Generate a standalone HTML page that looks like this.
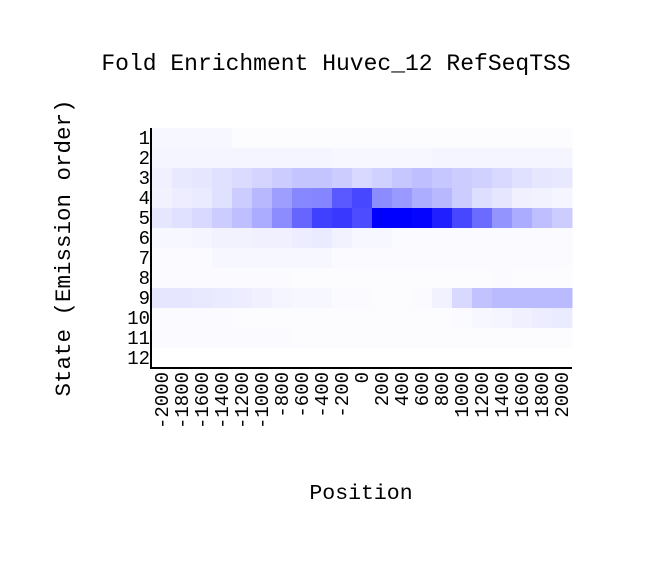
<!DOCTYPE html>
<html><head><meta charset="utf-8"><style>body{margin:0;background:#fff}svg text{font-family:"Liberation Mono",monospace;fill:#000}</style></head>
<body>
<svg id="c" width="672" height="556">
<text x="336" y="70" font-size="23" text-anchor="middle">Fold Enrichment Huvec_12 RefSeqTSS</text>
<text x="361" y="499" font-size="21.5" text-anchor="middle">Position</text>
<text transform="translate(70,248) rotate(-90)" font-size="22.5" text-anchor="middle">State (Emission order)</text>
<g id="cells"></g><g id="lbl"></g>
<line x1="151" y1="128" x2="151" y2="369" stroke="#000" stroke-width="2"/>
<line x1="150" y1="368" x2="572" y2="368" stroke="#000" stroke-width="2"/>
</svg>
<script>
const positions=[-2000,-1800,-1600,-1400,-1200,-1000,-800,-600,-400,-200,0,200,400,600,800,1000,1200,1400,1600,1800,2000];
const states=["1","2","3","4","5","6","7","8","9","10","11","12"];
const values=[
[0.03,0.03,0.03,0.03,0.01,0.01,0.01,0.01,0.01,0.01,0.01,0.01,0.01,0.01,0.01,0.01,0.01,0.01,0.01,0.01,0.01],
[0.04,0.04,0.04,0.04,0.04,0.04,0.04,0.04,0.04,0.03,0.03,0.03,0.03,0.03,0.04,0.04,0.04,0.04,0.04,0.04,0.04],
[0.06,0.09,0.1,0.12,0.14,0.17,0.2,0.23,0.23,0.2,0.15,0.18,0.22,0.25,0.22,0.2,0.18,0.15,0.12,0.1,0.09],
[0.05,0.07,0.08,0.12,0.2,0.28,0.38,0.47,0.48,0.65,0.72,0.45,0.4,0.32,0.28,0.2,0.13,0.1,0.06,0.05,0.04],
[0.1,0.12,0.15,0.2,0.25,0.33,0.45,0.6,0.75,0.78,0.7,1,1,0.98,0.88,0.72,0.58,0.42,0.33,0.25,0.2],
[0.03,0.03,0.04,0.05,0.05,0.06,0.06,0.07,0.08,0.05,0.03,0.03,0.02,0.02,0.02,0.02,0.02,0.02,0.02,0.02,0.02],
[0.02,0.02,0.02,0.03,0.03,0.03,0.03,0.03,0.03,0.02,0.02,0.02,0.02,0.02,0.02,0.02,0.02,0.02,0.02,0.02,0.02],
[0.02,0.02,0.02,0.02,0.02,0.02,0.02,0.01,0.01,0.01,0.01,0.01,0.01,0.01,0.01,0.01,0.01,0.02,0.01,0.01,0.01],
[0.1,0.1,0.09,0.08,0.07,0.06,0.04,0.03,0.03,0.02,0.02,0.01,0.01,0.02,0.05,0.15,0.24,0.27,0.27,0.27,0.27],
[0.02,0.02,0.02,0.02,0.01,0.01,0.01,0.01,0.01,0.01,0.01,0.01,0.01,0.01,0.01,0.02,0.03,0.04,0.06,0.07,0.08],
[0.02,0.02,0.02,0.02,0.02,0.02,0.02,0.01,0.01,0.01,0.01,0.01,0.01,0.01,0.01,0.01,0.01,0.01,0.01,0.01,0.01],
[0,0,0,0,0,0,0,0,0,0,0,0,0,0,0,0,0,0,0,0,0]
];
const NS="http://www.w3.org/2000/svg";
const x0=152,cw=20,y0=128,rh=20;
const xs=i=>x0+i*cw, ys=j=>y0+j*rh;
const cells=document.getElementById('cells'),lbl=document.getElementById('lbl');
values.forEach((row,j)=>row.forEach((v,i)=>{
 const r=document.createElementNS(NS,'rect');
 
 
 const c=Math.round(255*(1-v));
 r.setAttribute('x',xs(i));r.setAttribute('y',ys(j));r.setAttribute('width',cw+0.5);r.setAttribute('height',rh+0.5);
 r.setAttribute('fill',`rgb(${c},${c},255)`);cells.appendChild(r);
}));
states.forEach((s,j)=>{
 const t=document.createElementNS(NS,'text');
 
 
 t.setAttribute('x',150);t.setAttribute('y',ys(j)+rh/2+6);t.setAttribute('font-size','19');t.setAttribute('text-anchor','end');
 t.textContent=s;lbl.appendChild(t);
});
positions.forEach((p,i)=>{
 const t=document.createElementNS(NS,'text');
 
 
 const x=xs(i)+cw/2+6;
 t.setAttribute('transform',`translate(${x},372) rotate(-90)`);t.setAttribute('font-size','19');t.setAttribute('text-anchor','end');
 t.textContent=p;lbl.appendChild(t);
});
</script>
</body></html>
